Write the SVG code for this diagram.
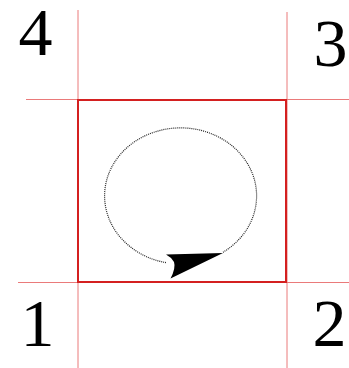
<svg xmlns="http://www.w3.org/2000/svg" width="349" height="368" viewBox="0 0 349 368">
<style>
.thin{stroke:#ea7a7a;stroke-width:1;fill:none}
.thick{stroke:#d42020;stroke-width:2;fill:none}
.lbl{font-family:"Liberation Serif",serif;font-size:68px;fill:#000;text-anchor:middle}
.dot{stroke:#222;stroke-width:1.2;stroke-dasharray:1 1;fill:none}
</style>
<rect width="349" height="368" fill="#fff"/>
<g id="grid">
<line class="thin" x1="78" y1="10" x2="78" y2="368"/>
<line class="thin" x1="287" y1="12" x2="287" y2="368"/>
<line class="thin" x1="26" y1="99.5" x2="349" y2="99.5"/>
<line class="thin" x1="18" y1="282.5" x2="349" y2="282.5"/>
</g>
<g id="square">
<rect class="thick" x="78" y="100" width="208" height="182"/>
</g>
<g id="connectors">
<path class="dot" d="M166,262.6 A76,68 0 1 1 223,252.3"/>
<path d="M166,254.5 L223,253 L170.5,278.5 Q176,268 174,262 Q171,257 166,254.5 Z" fill="#000"/>
</g>
<g id="labels">
<text class="lbl" x="35.5" y="55">4</text>
<text class="lbl" x="330.5" y="66">3</text>
<text class="lbl" x="37.5" y="346">1</text>
<text class="lbl" x="329.5" y="346">2</text>
</g>
</svg>
